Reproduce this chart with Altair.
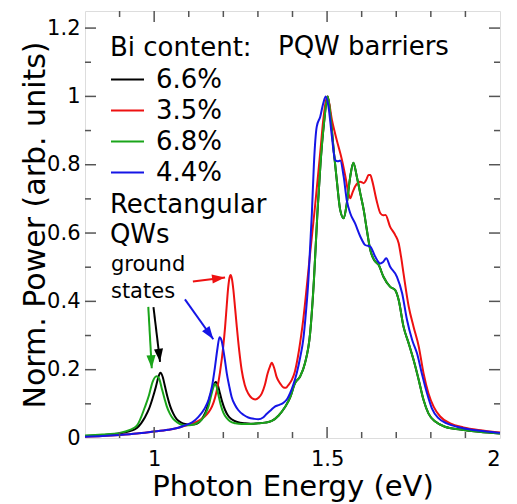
import math
import altair as alt
import pandas as pd

# ---------------- data ----------------
series_names = ["6.6%", "3.5%", "6.8%", "4.4%"]
series_colors = ["#000000", "#ee1111", "#1aa51a", "#1515e6"]

black_x = [0.80, 0.85, 0.90, 0.93, 0.95, 0.973, 0.985, 0.995, 1.005, 1.012, 1.018, 1.025, 1.031, 1.038,
           1.046, 1.055, 1.065, 1.077, 1.089, 1.105, 1.118, 1.13, 1.142, 1.152, 1.161, 1.17, 1.178,
           1.184, 1.19, 1.197, 1.205, 1.214, 1.224, 1.24, 1.263, 1.28, 1.301, 1.32, 1.34, 1.36, 1.378,
           1.393, 1.407, 1.422, 1.436, 1.451, 1.462, 1.472, 1.481, 1.491, 1.502, 1.511, 1.52, 1.528,
           1.538, 1.548, 1.557, 1.567, 1.576, 1.586, 1.596, 1.606, 1.615, 1.625, 1.636, 1.649, 1.663,
           1.682, 1.697, 1.707, 1.721, 1.736, 1.75, 1.765, 1.779, 1.793, 1.813, 1.841, 1.885, 1.94, 2.0]
black_y = [0.006, 0.009, 0.013, 0.020, 0.029, 0.060, 0.085, 0.115, 0.150, 0.178, 0.191, 0.178, 0.152, 0.122,
           0.094, 0.072, 0.055, 0.046, 0.041, 0.039, 0.040, 0.046, 0.062, 0.085, 0.120, 0.150, 0.164,
           0.155, 0.132, 0.105, 0.082, 0.065, 0.055, 0.047, 0.043, 0.042, 0.043, 0.045, 0.050, 0.066, 0.090,
           0.118, 0.160, 0.180, 0.219, 0.307, 0.463, 0.658, 0.804, 0.921, 1.000, 0.931, 0.833, 0.755,
           0.667, 0.643, 0.687, 0.765, 0.806, 0.765, 0.716, 0.667, 0.609, 0.550, 0.521, 0.507, 0.472,
           0.443, 0.433, 0.404, 0.326, 0.277, 0.229, 0.170, 0.111, 0.072, 0.048, 0.033, 0.025, 0.018, 0.013]

red_x = [0.80, 0.85, 0.90, 0.95, 0.993, 1.041, 1.07, 1.089, 1.11, 1.128, 1.145, 1.157, 1.167, 1.176,
         1.19, 1.2, 1.205, 1.21, 1.214, 1.218, 1.221, 1.225, 1.229, 1.234, 1.239, 1.246, 1.253, 1.262,
         1.272, 1.282, 1.292, 1.302, 1.311, 1.32, 1.328, 1.335, 1.34, 1.347, 1.354, 1.364, 1.374, 1.381,
         1.388, 1.398, 1.407, 1.416, 1.425, 1.431, 1.441, 1.451, 1.465, 1.48, 1.489, 1.501, 1.514, 1.528,
         1.543, 1.553, 1.562, 1.567, 1.574, 1.581, 1.596, 1.606, 1.613, 1.62, 1.625, 1.63, 1.643, 1.654,
         1.662, 1.669, 1.682, 1.697, 1.707, 1.714, 1.721, 1.736, 1.75, 1.765, 1.779, 1.793, 1.808, 1.827,
         1.856, 1.894, 1.95, 2.0]
red_y = [0.004, 0.006, 0.009, 0.013, 0.018, 0.024, 0.030, 0.036, 0.042, 0.050, 0.062, 0.075, 0.092, 0.118,
         0.190, 0.270, 0.324, 0.390, 0.440, 0.470, 0.477, 0.465, 0.434, 0.380, 0.325, 0.255, 0.199, 0.155,
         0.130, 0.117, 0.113, 0.118, 0.130, 0.155, 0.189, 0.210, 0.220, 0.205, 0.179, 0.160, 0.148, 0.147,
         0.155, 0.170, 0.195, 0.240, 0.300, 0.346, 0.440, 0.541, 0.677, 0.833, 0.931, 1.000, 0.931, 0.872,
         0.814, 0.765, 0.716, 0.702, 0.720, 0.736, 0.750, 0.746, 0.755, 0.770, 0.770, 0.755, 0.696, 0.658,
         0.652, 0.653, 0.619, 0.594, 0.570, 0.530, 0.482, 0.385, 0.326, 0.268, 0.189, 0.131, 0.092, 0.063,
         0.043, 0.031, 0.022, 0.016]

green_x = [0.80, 0.85, 0.90, 0.93, 0.95, 0.973, 0.985, 0.995, 1.007, 1.015, 1.022, 1.03, 1.036, 1.045,
           1.055, 1.068, 1.08, 1.095, 1.108, 1.125, 1.137, 1.148, 1.157, 1.165, 1.171, 1.175, 1.18, 1.186,
           1.193, 1.2, 1.21, 1.219, 1.235, 1.253, 1.28, 1.301, 1.32, 1.34, 1.36, 1.378, 1.393, 1.407, 1.422,
           1.436, 1.451, 1.462, 1.472, 1.481, 1.491, 1.502, 1.511, 1.52, 1.528, 1.538, 1.548, 1.557, 1.567,
           1.576, 1.586, 1.596, 1.606, 1.615, 1.625, 1.636, 1.649, 1.663, 1.682, 1.697, 1.707, 1.721, 1.736,
           1.75, 1.765, 1.779, 1.793, 1.813, 1.841, 1.885, 1.94, 2.0]
green_y = [0.007, 0.010, 0.015, 0.024, 0.036, 0.090, 0.125, 0.163, 0.181, 0.172, 0.145, 0.115, 0.094, 0.072,
           0.056, 0.045, 0.039, 0.037, 0.038, 0.044, 0.053, 0.070, 0.092, 0.125, 0.148, 0.158, 0.152, 0.125,
           0.095, 0.074, 0.058, 0.049, 0.043, 0.041, 0.041, 0.043, 0.045, 0.050, 0.066, 0.090, 0.118, 0.160,
           0.180, 0.219, 0.307, 0.463, 0.658, 0.804, 0.921, 1.000, 0.931, 0.833, 0.755, 0.667, 0.643, 0.687,
           0.765, 0.806, 0.765, 0.716, 0.667, 0.609, 0.550, 0.521, 0.507, 0.472, 0.443, 0.433, 0.404, 0.326,
           0.277, 0.229, 0.170, 0.111, 0.072, 0.048, 0.033, 0.025, 0.018, 0.013]

blue_x = [0.80, 0.85, 0.90, 0.95, 0.993, 1.041, 1.07, 1.089, 1.11, 1.128, 1.145, 1.157, 1.167, 1.176,
          1.183, 1.189, 1.195, 1.2, 1.205, 1.21, 1.217, 1.224, 1.233, 1.243, 1.258, 1.272, 1.29, 1.301,
          1.315, 1.325, 1.338, 1.349, 1.362, 1.374, 1.385, 1.393, 1.402, 1.412, 1.422, 1.431, 1.439, 1.446,
          1.451, 1.456, 1.462, 1.47, 1.48, 1.489, 1.496, 1.504, 1.514, 1.523, 1.531, 1.538, 1.548, 1.557,
          1.567, 1.581, 1.596, 1.61, 1.625, 1.639, 1.654, 1.662, 1.671, 1.682, 1.702, 1.717, 1.731, 1.746,
          1.76, 1.774, 1.789, 1.803, 1.822, 1.846, 1.875, 1.914, 1.96, 2.0]
blue_y = [0.004, 0.006, 0.009, 0.013, 0.018, 0.024, 0.030, 0.037, 0.046, 0.062, 0.085, 0.111, 0.150, 0.209,
          0.262, 0.295, 0.285, 0.258, 0.225, 0.189, 0.152, 0.120, 0.098, 0.082, 0.068, 0.060, 0.056, 0.055,
          0.060, 0.070, 0.082, 0.092, 0.097, 0.103, 0.115, 0.131, 0.155, 0.189, 0.235, 0.287, 0.370, 0.463,
          0.560, 0.658, 0.804, 0.911, 0.940, 0.980, 1.000, 0.970, 0.882, 0.814, 0.810, 0.812, 0.765, 0.696,
          0.658, 0.628, 0.590, 0.565, 0.560, 0.531, 0.511, 0.515, 0.526, 0.502, 0.472, 0.424, 0.346, 0.287,
          0.248, 0.189, 0.131, 0.087, 0.058, 0.043, 0.033, 0.025, 0.019, 0.015]

# ticks
x_major = [1.0, 1.5]
x_minor = [0.9, 1.1, 1.2, 1.3, 1.4, 1.6, 1.7, 1.8, 1.9]
y_major = [0.2, 0.4, 0.6, 0.8, 1.0, 1.2]
y_minor = [0.1, 0.3, 0.5, 0.7, 0.9, 1.1]
x_labels = [1, 1.5, 2]
y_labels = [0, 0.2, 0.4, 0.6, 0.8, 1, 1.2]

# annotations
big_text = ["PQW barriers", "Rectangular", "QWs"]
big_text_x = [1.358, 0.872, 0.872]
big_text_y = [1.121, 0.659, 0.571]
small_text = ["ground", "states"]
small_text_x = [0.875, 0.875]
small_text_y = [0.49, 0.41]

arrow_color = ["#ee1111", "#1515e6", "#1aa51a", "#000000"]
arrow_x0 = [1.112, 1.089, 0.983, 0.998]
arrow_y0 = [0.458, 0.406, 0.384, 0.383]
arrow_x1 = [1.205, 1.171, 0.993, 1.017]
arrow_y1 = [0.470, 0.289, 0.204, 0.223]

# ---------------- layout ----------------
W, H = 415, 427
X_DOMAIN = [0.8, 2.0]
Y_DOMAIN = [0.0, 1.25]
FONT = "DejaVu Sans"
TICK_COLOR = "#555555"
MAJOR_LEN, MINOR_LEN = 11, 6

xs = alt.Scale(domain=X_DOMAIN, nice=False, zero=False)
ys = alt.Scale(domain=Y_DOMAIN, nice=False, zero=False)

rows = []
for name, xv, yv in zip(series_names, [black_x, red_x, green_x, blue_x], [black_y, red_y, green_y, blue_y]):
    for a, b in zip(xv, yv):
        rows.append({"series": name, "energy": a, "power": b})
curves = pd.DataFrame(rows)

lines = alt.Chart(curves).mark_line(strokeWidth=2, interpolate="monotone").encode(
    x=alt.X("energy:Q", scale=xs,
            axis=alt.Axis(values=x_labels, format="~g", ticks=False, tickSize=0, domain=False,
                          grid=False, labelFontSize=21, labelPadding=10, labelColor="black",
                          labelFont=FONT, title="Photon Energy (eV)", titleFontSize=29,
                          titleFont=FONT, titleFontWeight="normal", titleColor="black",
                          titleBaseline="alphabetic", titleY=57)),
    y=alt.Y("power:Q", scale=ys,
            axis=alt.Axis(values=y_labels, format="~g", ticks=False, tickSize=0, domain=False,
                          grid=False, labelFontSize=21, labelPadding=5, labelColor="black",
                          labelFont=FONT, title="Norm. Power (arb. units)", titleFontSize=30,
                          titleFont=FONT, titleFontWeight="normal", titleColor="black",
                          titleBaseline="alphabetic", titleX=-41)),
    color=alt.Color("series:N", scale=alt.Scale(domain=series_names, range=series_colors),
                    legend=alt.Legend(title="Bi content:", orient="none", legendX=25, legendY=24,
                                      symbolType="stroke", symbolSize=1089, symbolStrokeWidth=2,
                                      labelFontSize=26, labelFont=FONT, labelColor="black",
                                      titleFontSize=26, titleFont=FONT, titleFontWeight="normal",
                                      titleColor="black", rowPadding=0, titlePadding=1,
                                      labelOffset=11, padding=0)),
)

layers = [lines]

def xtick(vals, length, top):
    return alt.Chart(pd.DataFrame({"v": vals})).mark_rule(color=TICK_COLOR, strokeWidth=1.5).encode(
        x=alt.X("v:Q", scale=xs),
        y=alt.value(0 if top else H),
        y2=alt.value(length if top else H - length),
    )

def ytick(vals, length, right):
    return alt.Chart(pd.DataFrame({"v": vals})).mark_rule(color=TICK_COLOR, strokeWidth=1.5).encode(
        y=alt.Y("v:Q", scale=ys),
        x=alt.value(W if right else 0),
        x2=alt.value(W - length if right else length),
    )

for top in (False, True):
    layers.append(xtick(x_major, MAJOR_LEN, top))
    layers.append(xtick(x_minor, MINOR_LEN, top))
for right in (False, True):
    layers.append(ytick(y_major, MAJOR_LEN, right))
    layers.append(ytick(y_minor, MINOR_LEN, right))

big = alt.Chart(pd.DataFrame({"t": big_text, "x": big_text_x, "y": big_text_y})).mark_text(
    align="left", baseline="alphabetic", fontSize=26, font=FONT, color="black").encode(
    x=alt.X("x:Q", scale=xs), y=alt.Y("y:Q", scale=ys), text="t:N")
small = alt.Chart(pd.DataFrame({"t": small_text, "x": small_text_x, "y": small_text_y})).mark_text(
    align="left", baseline="alphabetic", fontSize=21, font=FONT, color="black").encode(
    x=alt.X("x:Q", scale=xs), y=alt.Y("y:Q", scale=ys), text="t:N")
layers += [big, small]

# arrows
angles = []
for x0, y0, x1, y1 in zip(arrow_x0, arrow_y0, arrow_x1, arrow_y1):
    dx = (x1 - x0) * W / (X_DOMAIN[1] - X_DOMAIN[0])
    dy = -(y1 - y0) * H / (Y_DOMAIN[1] - Y_DOMAIN[0])
    angles.append(math.degrees(math.atan2(dx, -dy)) % 360)
arrows = pd.DataFrame({"c": arrow_color, "x0": arrow_x0, "y0": arrow_y0,
                       "x1": arrow_x1, "y1": arrow_y1, "ang": angles})
shafts = alt.Chart(arrows).mark_rule(strokeWidth=2).encode(
    x=alt.X("x0:Q", scale=xs), y=alt.Y("y0:Q", scale=ys), x2="x1:Q", y2="y1:Q",
    color=alt.Color("c:N", scale=None))
heads = alt.Chart(arrows).mark_point(shape="M0,0L-0.35,1L0.35,1Z", filled=True, size=676,
                                     opacity=1, strokeWidth=0).encode(
    x=alt.X("x1:Q", scale=xs), y=alt.Y("y1:Q", scale=ys),
    angle=alt.Angle("ang:Q", scale=None),
    color=alt.Color("c:N", scale=None))
layers += [shafts, heads]

chart = alt.layer(*layers).properties(
    width=W, height=H,
    autosize=alt.AutoSizeParams(type="none"),
    padding={"left": 77, "top": 3, "right": 9, "bottom": 64},
).configure_view(stroke="#555555", strokeWidth=1.5).configure(font=FONT)

chart.save("out.html", embed_options={"renderer": "svg", "actions": False})
